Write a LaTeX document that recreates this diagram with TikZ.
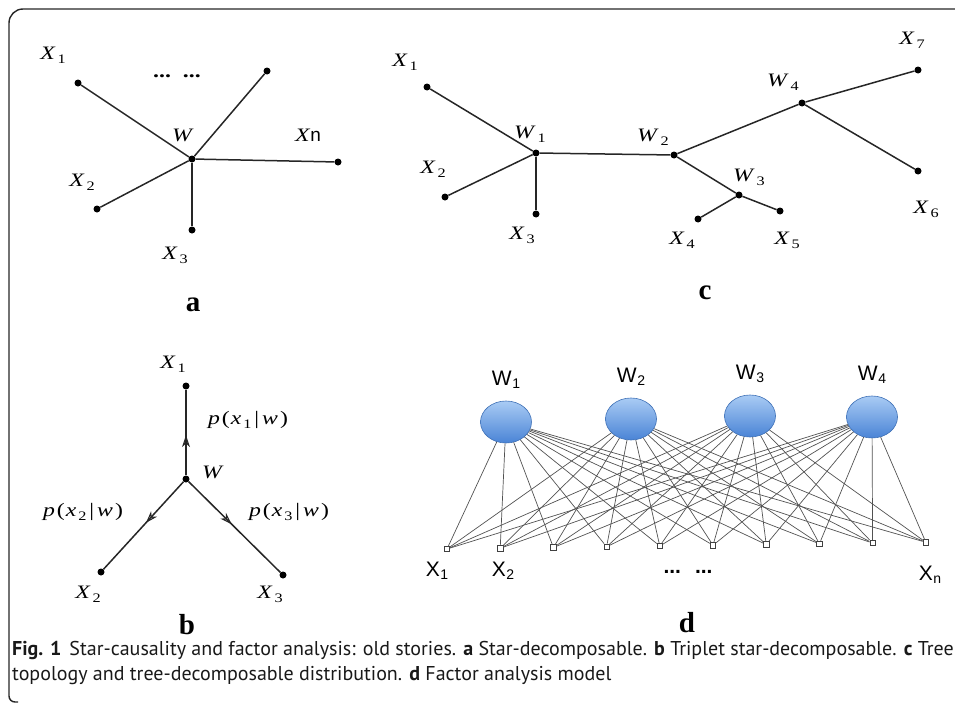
\documentclass[tikz,border=0pt]{standalone}
\usepackage{fontspec}
\setmainfont{Liberation Serif}
\newfontfamily\labfont[FakeStretch=1.25]{Liberation Serif}
\newfontfamily\capfont{PT Sans}
\newfontfamily\dfont{Liberation Sans}
\usetikzlibrary{shapes.geometric,arrows.meta,decorations.markings}
\definecolor{wtop}{HTML}{A9CBF4}
\definecolor{wbot}{HTML}{4A84D6}
\definecolor{wline}{HTML}{3E70B6}
\newcommand{\xsub}[2]{\textit{#1}\kern2pt\raisebox{-4pt}{\fontsize{13}{13}\selectfont #2}}
\newcommand{\dsub}[2]{#1\kern0.5pt\raisebox{-3pt}{\fontsize{14}{14}\selectfont #2}}
\newcommand{\pcond}[1]{\textit{p}\kern2pt(\kern1pt\xsub{x}{#1}\kern3pt|\kern3pt\textit{w}\kern2pt)}
\tikzset{
  dot/.style={circle,fill=black,inner sep=0pt,minimum size=7pt},
  edge/.style={line width=1.5pt,black!85},
  lbl/.style={inner sep=0pt,font=\labfont\fontsize{19}{19}\selectfont},
  tag/.style={inner sep=0pt,font=\fontsize{29}{29}\selectfont\bfseries},
  dlbl/.style={inner sep=0pt,font=\dfont\fontsize{21}{21}\selectfont},
  latent/.style={ellipse,draw=wline,line width=0.6pt,minimum width=51pt,minimum height=42pt,inner sep=0pt,top color=wtop,bottom color=wbot},
  sq/.style={rectangle,draw=black!75,fill=white,inner sep=0pt,minimum size=5.5pt,line width=0.7pt},
  link/.style={black!68,line width=0.7pt},
  flow/.style={postaction={decorate},decoration={markings,mark=at position 0.47 with {\arrow[line width=1.1pt]{Stealth[open,length=12pt,width=8pt,inset=3.5pt]}}}}
}
\begin{document}
\begin{tikzpicture}[x=1pt,y=-1pt]
\useasboundingbox (0,0) rectangle (955,704);
\draw[line width=1.4pt,black!85] (18,702) [rounded corners=6pt] -- (9,702) -- (9,300) [rounded corners=14pt] -- (9,9) -- (955,9);

\foreach \n/\x/\y in {W/192/159,X1/78/83,Xm/267/71,Xn/338/162,X2/97/209,X3/192/230}{
  \node[dot] (a\n) at (\x,\y) {};
}
\foreach \n in {X1,Xm,Xn,X2,X3}{
  \draw[edge] (aW) -- (a\n);
}
\node[lbl] (aX1l) at (53,55) {\xsub{X}{1}};
\node[lbl] (aX2l) at (82,182) {\xsub{X}{2}};
\node[lbl] (aX3l) at (175,255) {\xsub{X}{3}};
\node[lbl] (aWl) at (183,135) {\textit{W}};
\node[lbl] (aXnl) at (308,135) {\textit{X}{\dfont n}};
\node[lbl] (adots) at (177,76) {\textbf{...}\hspace{12pt}\textbf{...}};
\node[tag] (atag) at (193,305) {a};

\foreach \n/\x/\y in {W/186/479,X1/186/386,X2/101/572,X3/283/575}{
  \node[dot] (b\n) at (\x,\y) {};
}
\foreach \n in {X1,X2,X3}{
  \draw[edge,flow] (bW) -- (b\n);
}
\node[lbl] (bX1l) at (173,364) {\xsub{X}{1}};
\node[lbl] (bX2l) at (88,594) {\xsub{X}{2}};
\node[lbl] (bX3l) at (270,594) {\xsub{X}{3}};
\node[lbl] (bWl) at (213,472) {\textit{W}};
\node[lbl] (bp1) at (248,420) {\pcond{1}};
\node[lbl] (bp2) at (83,512) {\pcond{2}};
\node[lbl] (bp3) at (289,512) {\pcond{3}};
\node[tag] (btag) at (187,625) {b};

\foreach \n/\x/\y in {W1/536/153,W2/674/155,W3/739/195,W4/802/103,X1/427/87,X2/445/197,X3/536/214,X4/698/219,X5/780/211,X6/918/171,X7/918/70}{
  \node[dot] (c\n) at (\x,\y) {};
}
\foreach \s/\t in {W1/X1,W1/X2,W1/X3,W1/W2,W2/W3,W2/W4,W3/X4,W3/X5,W4/X6,W4/X7}{
  \draw[edge] (c\s) -- (c\t);
}
\foreach \n/\a/\i/\x/\y in {X1/X/1/405/62,X2/X/2/433/169,X3/X/3/522/235,X4/X/4/682/240,X5/X/5/787/240,X6/X/6/926/209,X7/X/7/912/40,W1/W/1/530/134,W2/W/2/653/137,W3/W/3/749/177,W4/W/4/783/82}{
  \node[lbl] (c\n l) at (\x,\y) {\xsub{\a}{\i}};
}
\node[tag] (ctag) at (705,293) {c};

\foreach \i in {1,...,10}{
  \node[sq] (s\i) at ({447+53.2*(\i-1)},{549-0.75*(\i-1)}) {};
}
\foreach \i/\x/\y in {1/506/422,2/631/419,3/750/416,4/872/417}{
  \node[latent] (w\i) at (\x,\y) {};
  \node[dlbl] (w\i l) at (\x,{\y-42}) {\dsub{W}{\i}};
  \foreach \j in {1,...,10}{
    \draw[link] (w\i) -- (s\j);
  }
}
\node[dlbl] (dX1l) at (437,571) {\dsub{X}{1}};
\node[dlbl] (dX2l) at (503,571) {\dsub{X}{2}};
\node[dlbl] (dXnl) at (930,575) {\dsub{X}{n}};
\node[dlbl] (ddots) at (688,572) {\textbf{...}\hspace{14pt}\textbf{...}};
\node[tag] (dtag) at (687,623) {d};

\node[anchor=north west,inner sep=0pt,align=left,font=\capfont\fontsize{20}{25}\selectfont,text=black!90] (caption) at (12,641)
  {\textbf{Fig. 1}\hspace{8pt}Star-causality and factor analysis: old stories. \textbf{a} Star-decomposable. \textbf{b} Triplet star-decomposable. \textbf{c} Tree\\
   topology and tree-decomposable distribution. \textbf{d} Factor analysis model};
\end{tikzpicture}
\end{document}
